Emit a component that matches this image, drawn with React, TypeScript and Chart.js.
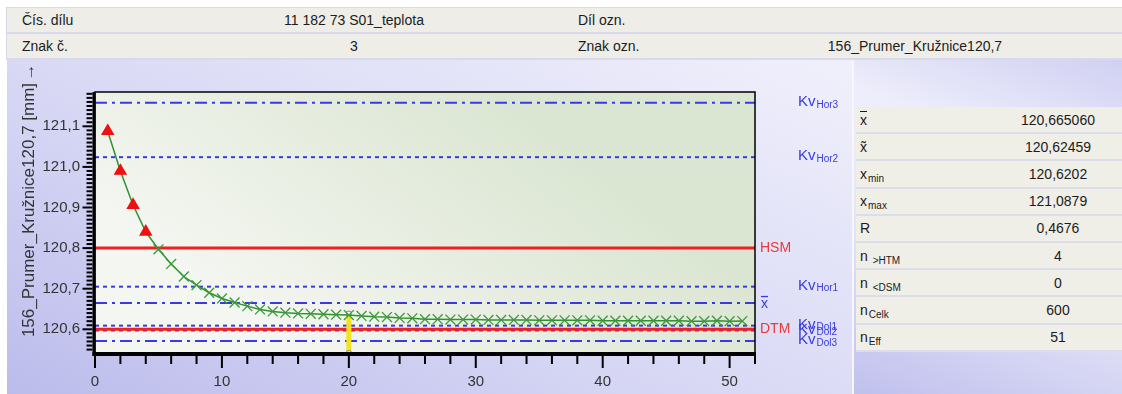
import React, { useEffect, useRef } from "react";
import { Chart, registerables } from "chart.js";

Chart.register(...registerables);

// ---------- data ----------
const sampleNumbers = [
  1, 2, 3, 4, 5, 6, 7, 8, 9, 10,
  11, 12, 13, 14, 15, 16, 17, 18, 19, 20,
  21, 22, 23, 24, 25, 26, 27, 28, 29, 30,
  31, 32, 33, 34, 35, 36, 37, 38, 39, 40,
  41, 42, 43, 44, 45, 46, 47, 48, 49, 50, 51,
];
const measuredValues = [
  121.088, 120.99, 120.906, 120.84, 120.797, 120.761, 120.73, 120.709, 120.69, 120.676,
  120.666, 120.657, 120.649, 120.644, 120.641, 120.639, 120.638, 120.637, 120.636, 120.635,
  120.633, 120.631, 120.63, 120.628, 120.627, 120.625, 120.625, 120.624, 120.624, 120.624,
  120.623, 120.623, 120.623, 120.623, 120.622, 120.622, 120.622, 120.622, 120.622, 120.621,
  120.621, 120.621, 120.621, 120.621, 120.621, 120.621, 120.62, 120.62, 120.621, 120.62, 120.6202,
];

const toleranceNames = ["HSM", "DTM"];
const toleranceValues = [120.8, 120.6];

const controlNames = ["Hor3", "Hor2", "Hor1", "Dol1", "Dol2", "Dol3"];
const controlValues = [121.158, 121.024, 120.705, 120.609, 120.597, 120.571];
const controlStyles = ["dashdot", "dotted", "dotted", "dotted", "dotted", "dashdot"];

const meanValue = 120.66506;

const cursorSample = 20;
const cursorTop = 120.639;

const xMin = 0;
const xMax = 52;
const yMin = 120.5416;
const yMax = 121.1845;
const xTickValues = [0, 10, 20, 30, 40, 50];
const yTickValues = [120.6, 120.7, 120.8, 120.9, 121.0, 121.1];

const headerRow1 = ["Čís. dílu", "11 182 73 S01_teplota", "Díl ozn.", ""];
const headerRow2 = ["Znak č.", "3", "Znak ozn.", "156_Prumer_Kružnice120,7"];

const statKeys = ["mean", "median", "min", "max", "R", "nHTM", "nDSM", "nCelk", "nEff"];
const statValues = ["120,665060", "120,62459", "120,6202", "121,0879", "0,4676", "4", "0", "600", "51"];

const axisTitle = "156_Prumer_Kružnice120,7 [mm]";

// ---------- styles ----------
const FONT = '"Liberation Sans", Arial, sans-serif';
const BLUE = "#3a3ae0";
const RED = "#ee2020";
const GREEN = "#2f922f";

function StatLabel({ k }: { k: string }) {
  const sub = (t: string) => (
    <span style={{ fontSize: 10, position: "relative", top: 3, marginLeft: 1 }}>{t}</span>
  );
  switch (k) {
    case "mean":
      return <span style={{ textDecoration: "overline" }}>x</span>;
    case "median":
      return <span>x̃</span>;
    case "min":
      return <span>x{sub("min")}</span>;
    case "max":
      return <span>x{sub("max")}</span>;
    case "R":
      return <span>R</span>;
    case "nHTM":
      return <span>n {sub(">HTM")}</span>;
    case "nDSM":
      return <span>n {sub("<DSM")}</span>;
    case "nCelk":
      return <span>n{sub("Celk")}</span>;
    case "nEff":
      return <span>n{sub("Eff")}</span>;
  }
  return <span>{k}</span>;
}

export default function App() {
  const canvasRef = useRef<HTMLCanvasElement>(null);

  useEffect(() => {
    const canvas = canvasRef.current;
    if (!canvas) return;

    const hsm = toleranceValues[0];

    const datasets: any[] = [];
    datasets.push({
      label: "measurements",
      data: sampleNumbers.map((x, i) => ({ x, y: measuredValues[i] })),
      borderColor: GREEN,
      borderWidth: 1.5,
      tension: 0,
      pointStyle: (c: any) => (c.raw && c.raw.y > hsm ? "triangle" : "crossRot"),
      pointRadius: (c: any) => (c.raw && c.raw.y > hsm ? 6.5 : 7),
      pointBackgroundColor: (c: any) => (c.raw && c.raw.y > hsm ? "#f01010" : GREEN),
      pointBorderColor: (c: any) => (c.raw && c.raw.y > hsm ? "#f01010" : "#3a9a3a"),
      pointBorderWidth: 1.3,
    });
    datasets.push({
      label: "cursor",
      data: [
        { x: cursorSample, y: yMin },
        { x: cursorSample, y: cursorTop },
      ],
      borderColor: "#f4e21c",
      borderWidth: 5,
      pointStyle: "rect",
      pointRadius: 3,
      pointBackgroundColor: "#ffffff",
      pointBorderColor: "#8a8a8a",
      pointBorderWidth: 1,
    });
    toleranceValues.forEach((v, i) => {
      datasets.push({
        label: toleranceNames[i],
        data: [
          { x: xMin, y: v },
          { x: xMax, y: v },
        ],
        borderColor: RED,
        borderWidth: 3,
        pointRadius: 0,
      });
    });
    datasets.push({
      label: "mean",
      data: [
        { x: xMin, y: meanValue },
        { x: xMax, y: meanValue },
      ],
      borderColor: BLUE,
      borderWidth: 2,
      borderDash: [12, 5, 3, 5],
      pointRadius: 0,
    });
    controlValues.forEach((v, i) => {
      datasets.push({
        label: "Kv" + controlNames[i],
        data: [
          { x: xMin, y: v },
          { x: xMax, y: v },
        ],
        borderColor: BLUE,
        borderWidth: 2,
        borderDash: controlStyles[i] === "dashdot" ? [12, 5, 3, 5] : [4, 4],
        pointRadius: 0,
      });
    });

    const decor = {
      id: "decor",
      beforeDatasetsDraw(chart: any) {
        const { ctx, chartArea } = chart;
        const { left, right, top, bottom } = chartArea;
        ctx.save();
        const g = ctx.createLinearGradient(left + (right - left) * 0.3, bottom, left + (right - left) * 0.6, top);
        g.addColorStop(0, "#f4f6f1");
        g.addColorStop(1, "#dbe6d2");
        ctx.fillStyle = g;
        ctx.fillRect(left, top, right - left, bottom - top);
        ctx.restore();
      },
      afterDraw(chart: any) {
        const ctx = chart.ctx;
        const area = chart.chartArea;
        const left = area.left;
        const right = area.right;
        const top = area.top;
        const bottom = area.bottom;
        const xs = chart.scales.x;
        const ys = chart.scales.y;
        ctx.save();
        ctx.setLineDash([]);
        ctx.strokeStyle = "#000000";
        ctx.lineWidth = 1.5;
        ctx.strokeRect(left, top, right - left, bottom - top);
        // thick axes
        ctx.lineWidth = 3;
        ctx.beginPath();
        ctx.moveTo(left - 1, top);
        ctx.lineTo(left - 1, bottom + 3);
        ctx.stroke();
        ctx.lineWidth = 4;
        ctx.beginPath();
        ctx.moveTo(left - 2.5, bottom + 1);
        ctx.lineTo(right + 1, bottom + 1);
        ctx.stroke();
        // y ticks every 0.01 (hundredths)
        ctx.lineWidth = 2;
        for (let k = 12055; k <= 12118; k++) {
          const p = ys.getPixelForValue(k / 100);
          const len = k % 10 === 0 ? 10 : 6;
          ctx.beginPath();
          ctx.moveTo(left - 2.5 - len, p);
          ctx.lineTo(left - 2.5, p);
          ctx.stroke();
        }
        // x ticks every 2
        for (let v = 0; v <= 52; v += 2) {
          const p = xs.getPixelForValue(v);
          const len = v % 10 === 0 ? 13 : 9;
          ctx.beginPath();
          ctx.moveTo(p, bottom + 2);
          ctx.lineTo(p, bottom + 2 + len);
          ctx.stroke();
        }
        // right side labels
        ctx.textBaseline = "middle";
        ctx.textAlign = "left";
        ctx.font = `14px ${FONT}`;
        toleranceValues.forEach((v, i) => {
          ctx.fillStyle = "#e83a3a";
          ctx.fillText(toleranceNames[i], right + 5, ys.getPixelForValue(v));
        });
        {
          const py = ys.getPixelForValue(meanValue);
          ctx.fillStyle = BLUE;
          ctx.fillText("x", right + 6, py + 1);
          const w = ctx.measureText("x").width;
          ctx.fillRect(right + 6, py - 7, w, 1.3);
        }
        controlValues.forEach((v, i) => {
          const py = ys.getPixelForValue(v);
          ctx.fillStyle = BLUE;
          ctx.font = `15px ${FONT}`;
          ctx.fillText("Kv", right + 43, py - 1);
          const w = ctx.measureText("Kv").width;
          ctx.font = `10px ${FONT}`;
          ctx.fillText(controlNames[i], right + 44 + w, py + 2);
        });
        // axis title
        ctx.fillStyle = "#333";
        ctx.font = `17px ${FONT}`;
        ctx.translate(21, 0);
        ctx.rotate(-Math.PI / 2);
        ctx.textAlign = "center";
        ctx.fillText(axisTitle, -150, 0);
        ctx.fillText("→", -12, 0);
        ctx.restore();
      },
    };

    const chart = new Chart(canvas, {
      type: "line",
      data: { datasets },
      options: {
        animation: false,
        responsive: false,
        maintainAspectRatio: false,
        layout: { padding: { top: 32, right: 97, left: 0, bottom: 0 } },
        plugins: { legend: { display: false }, tooltip: { enabled: false } },
        scales: {
          x: {
            type: "linear",
            min: xMin,
            max: xMax,
            grid: { display: false, drawTicks: false },
            border: { display: false },
            afterBuildTicks: (s: any) => {
              s.ticks = xTickValues.map((v) => ({ value: v }));
            },
            ticks: {
              padding: 20,
              color: "#333",
              font: { size: 15, family: FONT },
              callback: (v: any) => String(v),
              maxRotation: 0,
            },
            afterFit: (s: any) => {
              s.height = 41;
            },
          },
          y: {
            type: "linear",
            min: yMin,
            max: yMax,
            grid: { display: false, drawTicks: false },
            border: { display: false },
            afterBuildTicks: (s: any) => {
              s.ticks = yTickValues.map((v) => ({ value: v }));
            },
            ticks: {
              padding: 15,
              color: "#333",
              font: { size: 15, family: FONT },
              callback: (v: any) => Number(v).toFixed(1).replace(".", ","),
            },
            afterFit: (s: any) => {
              s.width = 87;
            },
          },
        },
      },
      plugins: [decor],
    } as any);

    return () => chart.destroy();
  }, []);

  const cell = (text: string, style: React.CSSProperties) => (
    <div style={{ position: "absolute", top: 0, height: "100%", display: "flex", alignItems: "center", ...style }}>
      {text}
    </div>
  );

  const headerRow = (row: string[], top: number) => (
    <div
      style={{
        position: "absolute",
        left: 7,
        top,
        width: 1115,
        height: 24,
        background: "#eeede7",
        fontSize: 14,
        color: "#1c1c1c",
      }}
    >
      {cell(row[0], { left: 15 })}
      {cell(row[1], { left: 200, width: 294, justifyContent: "center" })}
      {cell(row[2], { left: 571 })}
      {cell(row[3], { left: 760, width: 296, justifyContent: "center" })}
    </div>
  );

  const rowH = 27.2;

  return (
    <div
      style={{
        position: "fixed",
        left: 0,
        top: 0,
        width: 1122,
        height: 394,
        background: "#ffffff",
        fontFamily: FONT,
        overflow: "hidden",
      }}
    >
      <div style={{ position: "absolute", left: 6, top: 7, width: 1116, height: 53, background: "#d9d9ec" }} />
      {headerRow(headerRow1, 8)}
      {headerRow(headerRow2, 34)}
      <div
        style={{
          position: "absolute",
          left: 7,
          top: 60,
          width: 845,
          height: 334,
          background: "linear-gradient(25deg, #bcbcec 0%, #d8d8f5 45%, #f0f0fc 100%)",
        }}
      />
      <div style={{ position: "absolute", left: 8, top: 60, width: 844, height: 334 }}>
        <canvas ref={canvasRef} width={844} height={334} style={{ display: "block" }} />
      </div>
      <div
        style={{
          position: "absolute",
          left: 852,
          top: 60,
          width: 270,
          height: 334,
          borderLeft: "2px solid #f6f6fb",
          boxSizing: "border-box",
          background: "linear-gradient(200deg, #d0d0f3 0%, #eeeefb 30%, #e4e4f8 60%, #c0c0ee 100%)",
        }}
      >
        {statKeys.map((k, i) => (
          <div
            key={k}
            style={{
              position: "absolute",
              left: 2,
              right: 0,
              top: 47 + i * rowH,
              height: rowH - 2,
              background: "#efeee7",
              borderBottom: "2px solid #dcdcea",
              fontSize: 14,
              color: "#1c1c1c",
            }}
          >
            <div style={{ position: "absolute", left: 4, top: 0, height: "100%", display: "flex", alignItems: "center" }}>
              <StatLabel k={k} />
            </div>
            <div
              style={{
                position: "absolute",
                left: 120,
                width: 164,
                top: 0,
                height: "100%",
                display: "flex",
                alignItems: "center",
                justifyContent: "center",
              }}
            >
              {statValues[i]}
            </div>
          </div>
        ))}
      </div>
    </div>
  );
}
